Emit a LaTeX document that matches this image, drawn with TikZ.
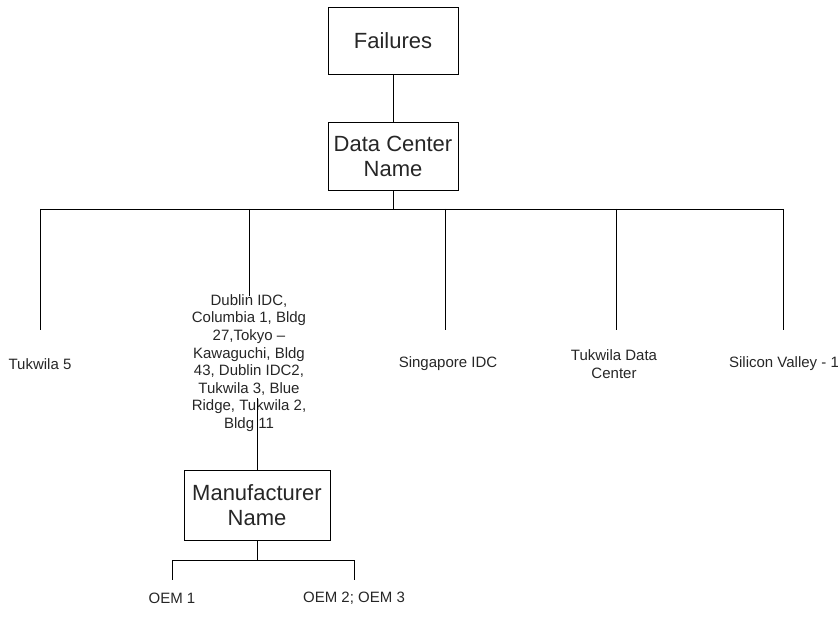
\documentclass[tikz,border=0pt]{standalone}
\usepackage{fontspec}
\setmainfont{Liberation Sans}
\begin{document}
\begin{tikzpicture}[x=1pt,y=-1pt,
  box/.style={draw=black, line width=0.8pt, minimum width=#1, align=center, font=\fontsize{22}{25}\selectfont, inner sep=0pt, text=black!85},
  lbl/.style={align=center, font=\fontsize{15}{17.6}\selectfont, inner sep=0pt, text=black!85},
  conn/.style={draw=black, line width=0.8pt}]
\useasboundingbox (0,0) rectangle (838,620);
\node[box=130pt, minimum height=67pt] (fail) at (393,41) {Failures};
\node[box=130pt, minimum height=68pt] (dc) at (393,156) {Data Center\\Name};
\node[box=146pt, minimum height=70pt] (mfr) at (257,505) {Manufacturer\\Name};
\coordinate (b0) at (393,209);
\coordinate (b1) at (40,209);
\coordinate (b2) at (249,209);
\coordinate (b3) at (445,209);
\coordinate (b4) at (616,209);
\coordinate (b5) at (783,209);
\coordinate (e1) at (40,330);
\coordinate (e2) at (249,296);
\coordinate (e3) at (445,330);
\coordinate (e4) at (616,330);
\coordinate (e5) at (783,330);
\node[lbl] (t1) at (40,364) {Tukwila 5};
\node[lbl] (t2) at (249,363) {Dublin IDC,\\Columbia 1, Bldg\\27,Tokyo --\\Kawaguchi, Bldg\\43, Dublin IDC2,\\Tukwila 3, Blue\\Ridge, Tukwila 2,\\Bldg 11};
\node[lbl] (t3) at (448,364) {Singapore IDC};
\node[lbl] (t4) at (614,364) {Tukwila Data\\Center};
\node[lbl] (t5) at (784,364) {Silicon Valley - 1};
\coordinate (m0) at (257,398);
\coordinate (c0) at (257,560);
\coordinate (c1) at (172,560);
\coordinate (c2) at (354,560);
\coordinate (f1) at (172,580);
\coordinate (f2) at (354,580);
\node[lbl] (o1) at (172,598) {OEM 1};
\node[lbl] (o2) at (354,598) {OEM 2; OEM 3};
\draw[conn] (fail.south) -- (dc.north);
\draw[conn] (dc.south) -- (b0);
\draw[conn] (b1) -- (b5);
\draw[conn] (b1) -- (e1);
\draw[conn] (b2) -- (e2);
\draw[conn] (b3) -- (e3);
\draw[conn] (b4) -- (e4);
\draw[conn] (b5) -- (e5);
\draw[conn] (m0) -- (mfr.north);
\draw[conn] (mfr.south) -- (c0);
\draw[conn] (c1) -- (c2);
\draw[conn] (c1) -- (f1);
\draw[conn] (c2) -- (f2);
\end{tikzpicture}
\end{document}
